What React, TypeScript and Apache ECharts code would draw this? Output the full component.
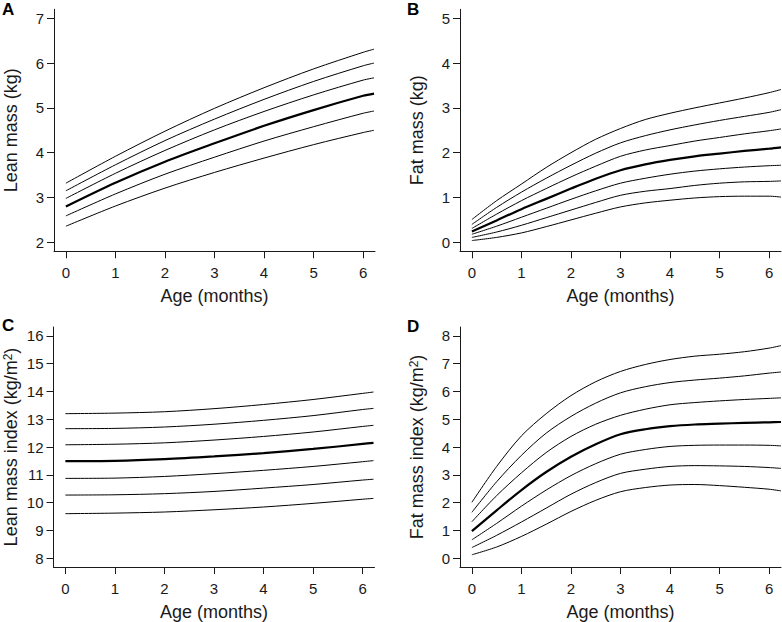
import React, { useEffect, useRef } from "react";
import * as echarts from "echarts";

// ---- data ----
const xTicks = [0, 1, 2, 3, 4, 5, 6];

// Panel A: lean mass (kg)
const agesA = [0, 1, 2, 3, 4, 5, 6, 6.22];
const leanMassCurves = [
  [3.32, 3.92, 4.48, 4.99, 5.45, 5.87, 6.24, 6.31],
  [3.15, 3.73, 4.27, 4.75, 5.19, 5.59, 5.94, 6.0],
  [2.98, 3.54, 4.05, 4.51, 4.92, 5.29, 5.62, 5.67],
  [2.8, 3.33, 3.8, 4.21, 4.6, 4.95, 5.27, 5.32],
  [2.59, 3.08, 3.52, 3.9, 4.26, 4.58, 4.88, 4.93],
  [2.36, 2.81, 3.21, 3.56, 3.88, 4.18, 4.45, 4.5],
];
const leanMassMedian = 3;
const yTicksA = [2, 3, 4, 5, 6, 7];

// Panel B: fat mass (kg)
const agesB = [0, 0.5, 1, 1.5, 2, 2.5, 3, 3.5, 4, 4.5, 5, 5.5, 6, 6.24];
const fatMassCurves = [
  [0.51, 0.93, 1.3, 1.67, 2.0, 2.3, 2.54, 2.74, 2.88, 3.0, 3.11, 3.22, 3.34, 3.41],
  [0.4, 0.78, 1.12, 1.43, 1.72, 1.99, 2.22, 2.38, 2.51, 2.62, 2.72, 2.81, 2.9, 2.96],
  [0.31, 0.63, 0.93, 1.2, 1.46, 1.7, 1.92, 2.06, 2.16, 2.26, 2.34, 2.42, 2.49, 2.53],
  [0.24, 0.49, 0.74, 0.97, 1.2, 1.42, 1.61, 1.74, 1.84, 1.92, 1.98, 2.04, 2.09, 2.12],
  [0.18, 0.36, 0.56, 0.76, 0.96, 1.15, 1.32, 1.43, 1.52, 1.59, 1.64, 1.68, 1.71, 1.72],
  [0.11, 0.23, 0.38, 0.55, 0.72, 0.89, 1.05, 1.14, 1.2, 1.27, 1.32, 1.35, 1.36, 1.37],
  [0.04, 0.11, 0.21, 0.35, 0.5, 0.65, 0.79, 0.88, 0.94, 0.99, 1.02, 1.03, 1.03, 1.01],
];
const fatMassMedian = 3;
const yTicksB = [0, 1, 2, 3, 4, 5];

// Panel C: lean mass index (kg/m2)
const agesC = [0, 1, 2, 3, 4, 5, 6, 6.22];
const leanMassIndexCurves = [
  [13.2, 13.22, 13.27, 13.38, 13.53, 13.71, 13.93, 13.98],
  [12.66, 12.67, 12.72, 12.82, 12.96, 13.13, 13.35, 13.39],
  [12.08, 12.1, 12.15, 12.25, 12.38, 12.54, 12.74, 12.78],
  [11.49, 11.5, 11.56, 11.66, 11.78, 11.93, 12.11, 12.15],
  [10.87, 10.88, 10.94, 11.04, 11.16, 11.3, 11.47, 11.51],
  [10.27, 10.28, 10.32, 10.4, 10.52, 10.65, 10.81, 10.84],
  [9.6, 9.62, 9.66, 9.74, 9.84, 9.97, 10.12, 10.15],
];
const leanMassIndexMedian = 3;
const yTicksC = [8, 9, 10, 11, 12, 13, 14, 15, 16];

// Panel D: fat mass index (kg/m2)
const agesD = [0, 0.5, 1, 1.5, 2, 2.5, 3, 3.5, 4, 4.5, 5, 5.5, 6, 6.24];
const fatMassIndexCurves = [
  [2.01, 3.3, 4.4, 5.2, 5.85, 6.35, 6.72, 6.97, 7.15, 7.27, 7.34, 7.43, 7.56, 7.65],
  [1.65, 2.75, 3.7, 4.5, 5.1, 5.58, 5.95, 6.17, 6.32, 6.41, 6.48, 6.56, 6.66, 6.7],
  [1.31, 2.25, 3.07, 3.8, 4.38, 4.82, 5.14, 5.36, 5.52, 5.6, 5.66, 5.71, 5.75, 5.77],
  [0.97, 1.72, 2.45, 3.1, 3.65, 4.1, 4.46, 4.64, 4.75, 4.81, 4.84, 4.87, 4.89, 4.9],
  [0.66, 1.25, 1.87, 2.45, 2.97, 3.4, 3.74, 3.91, 4.02, 4.06, 4.07, 4.07, 4.06, 4.04],
  [0.38, 0.82, 1.3, 1.8, 2.3, 2.72, 3.05, 3.2, 3.3, 3.33, 3.32, 3.3, 3.26, 3.23],
  [0.12, 0.4, 0.78, 1.22, 1.68, 2.08, 2.39, 2.54, 2.63, 2.65, 2.61, 2.55, 2.48, 2.42],
];
const fatMassIndexMedian = 3;
const yTicksD = [0, 1, 2, 3, 4, 5, 6, 7, 8];

const FONT = "'Liberation Sans', Arial, Helvetica, sans-serif";
const INK = "#1a1a1a";

type Panel = {
  grid: { left: number; top: number; width: number; height: number };
  yMin: number;
  yMax: number;
  yTicks: number[];
  yName: string;
  ages: number[];
  curves: number[][];
  median: number;
  letter: string;
  letterPos: [number, number];
};

const panels: Panel[] = [
  {
    grid: { left: 54, top: 9.3, width: 321, height: 242 },
    yMin: 1.8, yMax: 7.2, yTicks: yTicksA, yName: "Lean mass (kg)",
    ages: agesA, curves: leanMassCurves, median: leanMassMedian,
    letter: "A", letterPos: [2, 1],
  },
  {
    grid: { left: 460, top: 9.3, width: 321, height: 242 },
    yMin: -0.2, yMax: 5.2, yTicks: yTicksB, yName: "Fat mass (kg)",
    ages: agesB, curves: fatMassCurves, median: fatMassMedian,
    letter: "B", letterPos: [407, 1],
  },
  {
    grid: { left: 53.5, top: 327, width: 321, height: 241 },
    yMin: 7.68, yMax: 16.32, yTicks: yTicksC, yName: "Lean mass index (kg/m{sup|2})",
    ages: agesC, curves: leanMassIndexCurves, median: leanMassIndexMedian,
    letter: "C", letterPos: [2, 317],
  },
  {
    grid: { left: 460, top: 327, width: 321, height: 241 },
    yMin: -0.32, yMax: 8.32, yTicks: yTicksD, yName: "Fat mass index (kg/m{sup|2})",
    ages: agesD, curves: fatMassIndexCurves, median: fatMassIndexMedian,
    letter: "D", letterPos: [407, 318],
  },
];

export default function App() {
  const ref = useRef<HTMLDivElement>(null);
  useEffect(() => {
    document.body.style.margin = "0";
    if (!ref.current) return;
    const chart = echarts.init(ref.current, undefined, { renderer: "svg" });
    const axisLine = { show: true, onZero: false, lineStyle: { color: INK, width: 1 } };
    const axisTickBase = { show: true, inside: false, length: 7, lineStyle: { color: INK, width: 1 } };
    const option: any = {
      animation: false,
      backgroundColor: "#ffffff",
      grid: panels.map((p) => ({ ...p.grid, containLabel: false })),
      xAxis: panels.map((p, i) => ({
        type: "value",
        gridIndex: i,
        min: -0.24,
        max: 6.24,
        axisLine,
        axisTick: { ...axisTickBase, customValues: xTicks },
        axisLabel: { customValues: xTicks, color: INK, fontSize: 15, fontFamily: FONT, margin: 14 },
        splitLine: { show: false },
        name: "Age (months)",
        nameLocation: "middle",
        nameGap: 36,
        nameTextStyle: { color: INK, fontSize: 18, fontFamily: FONT },
      })),
      yAxis: panels.map((p, i) => ({
        type: "value",
        gridIndex: i,
        min: p.yMin,
        max: p.yMax,
        axisLine,
        axisTick: { ...axisTickBase, customValues: p.yTicks },
        axisLabel: { customValues: p.yTicks, color: INK, fontSize: 15, fontFamily: FONT, margin: 10 },
        splitLine: { show: false },
        name: p.yName,
        nameLocation: "middle",
        nameGap: 34,
        nameTextStyle: {
          color: INK,
          fontSize: 18,
          fontFamily: FONT,
          rich: { sup: { fontSize: 12, verticalAlign: "top", fontFamily: FONT, color: INK } },
        },
      })),
      series: panels.flatMap((p, i) =>
        p.curves.map((c, k) => ({
          type: "line",
          xAxisIndex: i,
          yAxisIndex: i,
          data: c.map((v, j) => [p.ages[j], v]),
          showSymbol: false,
          smooth: 0.3,
          silent: true,
          lineStyle: { color: "#000", width: k === p.median ? 2.2 : 1 },
        }))
      ),
      graphic: panels.map((p) => ({
        type: "text",
        left: p.letterPos[0],
        top: p.letterPos[1],
        style: { text: p.letter, fontSize: 17, fontWeight: "bold", fontFamily: FONT, fill: "#000" },
      })),
    };
    chart.setOption(option);
    return () => chart.dispose();
  }, []);
  return <div ref={ref} style={{ width: 782, height: 622 }} />;
}
